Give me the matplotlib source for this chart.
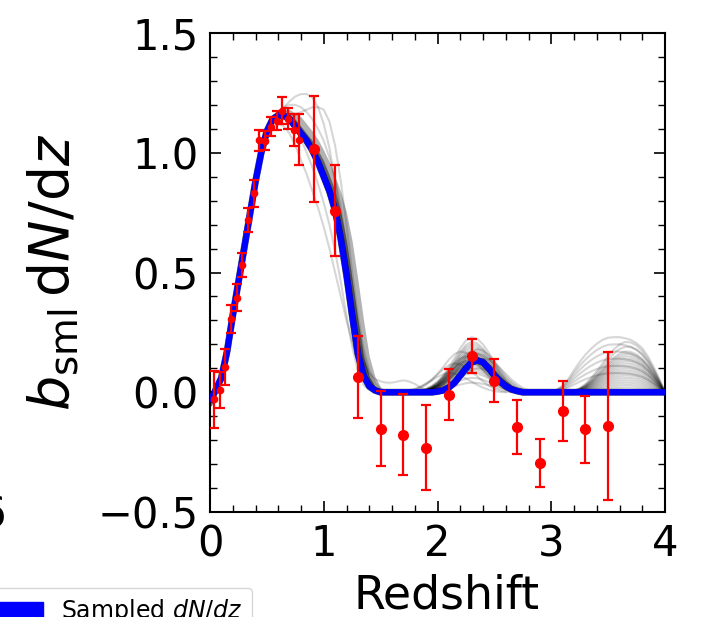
import numpy as np
import matplotlib
matplotlib.use("Agg")
import matplotlib.pyplot as plt
from matplotlib.patches import Patch
from matplotlib.ticker import MultipleLocator

plt.rcParams['font.family'] = ['DejaVu Sans']
plt.rcParams['mathtext.fontset'] = 'dejavusans'

# ---------------- data ----------------
z_grid = np.round(np.arange(0, 4.0001, 0.05), 2)

# best-fit (blue) curve sampled on z_grid
blue_curve = [-0.04, 0.01, 0.06, 0.17, 0.32, 0.46, 0.60, 0.74, 0.88, 1.00,
              1.09, 1.14, 1.155, 1.155, 1.14, 1.11, 1.08, 1.05, 1.01, 0.96,
              0.90, 0.84, 0.76, 0.64, 0.49, 0.32, 0.16, 0.07, 0.025, 0.008,
              0.0, 0.0, 0.0, 0.0, 0.0, 0.0, 0.0, 0.0, 0.0, 0.0,
              0.003, 0.008, 0.02, 0.04, 0.07, 0.10, 0.125, 0.133, 0.125, 0.10,
              0.07, 0.045, 0.025, 0.012, 0.005,
              0.0, 0.0, 0.0, 0.0, 0.0, 0.0, 0.0, 0.0, 0.0, 0.0, 0.0, 0.0, 0.0,
              0.0, 0.0, 0.0, 0.0, 0.0, 0.0, 0.0, 0.0, 0.0, 0.0, 0.0, 0.0, 0.0]

# dense band of samples around the main peak (z = 0.50 ... 1.60)
band_hi = [1.10, 1.16, 1.18, 1.185, 1.18, 1.165, 1.15, 1.12, 1.09, 1.055,
           1.01, 0.96, 0.90, 0.835, 0.75, 0.63, 0.47, 0.30, 0.15, 0.065,
           0.022, 0.007, 0.0]
band_mid = [1.09, 1.15, 1.17, 1.17, 1.16, 1.14, 1.11, 1.08, 1.05, 1.01,
            0.965, 0.905, 0.84, 0.755, 0.63, 0.47, 0.30, 0.15, 0.065, 0.024,
            0.008, 0.0, 0.0]
band_lo = [1.08, 1.13, 1.145, 1.14, 1.12, 1.09, 1.06, 1.025, 0.985, 0.93,
           0.865, 0.80, 0.70, 0.58, 0.42, 0.255, 0.115, 0.045, 0.015, 0.003,
           0.0, 0.0, 0.0]

# individual faint sample curves around the main peak (start at z = 0.50)
outlier_1 = [1.09, 1.13, 1.16, 1.19, 1.215, 1.235, 1.245, 1.245, 1.23, 1.19,
             1.12, 1.02, 0.88, 0.72, 0.55, 0.38, 0.24, 0.13, 0.06, 0.02, 0.0, 0.0]
outlier_2 = [1.09, 1.13, 1.15, 1.155, 1.155, 1.16, 1.17, 1.18, 1.19, 1.19,
             1.18, 1.13, 1.03, 0.88, 0.70, 0.50, 0.32, 0.18, 0.09, 0.04, 0.01, 0.0]
outlier_3 = [1.08, 1.11, 1.12, 1.11, 1.08, 1.03, 0.97, 0.91, 0.84, 0.77,
             0.69, 0.60, 0.50, 0.40, 0.30, 0.21, 0.13, 0.07, 0.03, 0.01, 0.0, 0.0]
outlier_4 = [1.09, 1.14, 1.16, 1.165, 1.15, 1.12, 1.09, 1.05, 1.01, 0.96,
             0.90, 0.83, 0.74, 0.62, 0.48, 0.34, 0.22, 0.13, 0.08, 0.055,
             0.045, 0.04, 0.04, 0.045, 0.05, 0.045, 0.035, 0.02, 0.01, 0.003, 0.0]
outlier_5 = [1.10, 1.15, 1.17, 1.17, 1.15, 1.11, 1.06, 1.00, 0.94, 0.87,
             0.79, 0.70, 0.59, 0.46, 0.32, 0.19, 0.09, 0.03, 0.01, 0.0, 0.0, 0.0]
outlier_6 = [1.09, 1.14, 1.17, 1.19, 1.20, 1.20, 1.19, 1.17, 1.14, 1.10,
             1.05, 0.98, 0.89, 0.77, 0.62, 0.45, 0.29, 0.16, 0.07, 0.02, 0.0, 0.0]

# second bump (z ~ 2.3): normalised profile over 21 grid steps, its start and peak heights
bump2_profile = [0.0, 0.02, 0.05, 0.10, 0.18, 0.30, 0.45, 0.62, 0.80, 0.94, 1.0,
                 0.97, 0.87, 0.72, 0.55, 0.38, 0.24, 0.13, 0.06, 0.02, 0.0]
bump2_start = [1.80, 1.80, 1.80, 1.80, 1.80, 1.80, 1.80, 1.80, 1.80, 1.80, 1.80,
               1.80, 1.80, 1.80, 1.80, 1.80, 1.80, 1.80, 1.80, 1.80, 1.80, 1.80,
               1.60, 1.65, 1.70, 1.85, 1.90, 1.75, 1.85, 1.80, 1.75, 1.85]
bump2_peak = [0.23, 0.21, 0.20, 0.19, 0.18, 0.17, 0.17, 0.16, 0.16, 0.15, 0.15,
              0.14, 0.14, 0.13, 0.13, 0.12, 0.11, 0.10, 0.09, 0.08, 0.06, 0.04,
              0.08, 0.12, 0.17, 0.16, 0.14, 0.15, 0.18, 0.12, 0.13, 0.10]

# third bump (z ~ 3.6), z = 3.00 ... 4.00
bump3_broad = [0.0, 0.05, 0.12, 0.24, 0.40, 0.55, 0.68, 0.79, 0.88, 0.95, 0.99,
               1.0, 1.0, 0.98, 0.95, 0.89, 0.80, 0.65, 0.46, 0.24, 0.0]
bump3_narrow = [0.0, 0.0, 0.0, 0.01, 0.03, 0.08, 0.16, 0.28, 0.42, 0.57, 0.72,
                0.85, 0.95, 1.0, 0.99, 0.93, 0.82, 0.66, 0.46, 0.24, 0.0]
bump3_broad_peak = [0.23, 0.20, 0.17, 0.14, 0.11, 0.08]
bump3_narrow_peak = [0.21, 0.19, 0.17, 0.16, 0.15, 0.14, 0.13, 0.12, 0.11, 0.10,
                     0.09, 0.08, 0.07, 0.06, 0.05, 0.04, 0.03, 0.02]

# measured points
z_fine = [0.035, 0.085, 0.135, 0.185, 0.235, 0.285, 0.335, 0.385, 0.435, 0.485,
          0.535, 0.585, 0.635, 0.685, 0.735, 0.785]
y_fine = [-0.03, 0.008, 0.106, 0.306, 0.395, 0.532, 0.721, 0.83, 1.052, 1.05,
          1.108, 1.133, 1.175, 1.143, 1.094, 1.055]
e_fine = [0.12, 0.075, 0.075, 0.057, 0.055, 0.05, 0.05, 0.055, 0.045, 0.04,
          0.04, 0.04, 0.056, 0.045, 0.066, 0.108]
z_coarse = [0.91, 1.10, 1.30, 1.50, 1.70, 1.90, 2.10, 2.30, 2.50, 2.70, 2.90,
            3.10, 3.30, 3.50]
y_coarse = [1.015, 0.757, 0.063, -0.152, -0.177, -0.232, -0.011, 0.152, 0.049,
            -0.145, -0.295, -0.078, -0.155, -0.14]
e_coarse = [0.22, 0.19, 0.17, 0.157, 0.17, 0.177, 0.106, 0.07, 0.088, 0.111,
            0.1, 0.127, 0.14, 0.31]

# ---------------- figure ----------------
fig = plt.figure(figsize=(7.03, 6.17), dpi=100)
ax = fig.add_axes([210/703, 1-512/617, 455/703, 479/617])

z = z_grid
gkw = dict(color='black', alpha=0.16, lw=1.5, zorder=2)

# dense band
bz = z[10:10+len(band_hi)]
ax.fill_between(bz, band_lo, band_hi, color='black', alpha=0.3, lw=0, zorder=2)
ax.fill_between(bz, band_lo, band_mid, color='black', alpha=0.45, lw=0, zorder=2)
for arr in (outlier_1, outlier_2, outlier_3, outlier_4, outlier_5, outlier_6):
    ax.plot(z[10:10+len(arr)], arr, **gkw)

# baseline of samples
ax.plot(z, blue_curve, color='black', alpha=0.6, lw=5, zorder=2)

# bump 2
for s, a in zip(bump2_start, bump2_peak):
    i0 = int(round(s / 0.05))
    ax.plot(z[i0:i0+len(bump2_profile)], np.array(bump2_profile) * a, **gkw)
# bump 3
for a in bump3_broad_peak:
    ax.plot(z[60:81], np.array(bump3_broad) * a, **gkw)
for a in bump3_narrow_peak:
    ax.plot(z[60:81], np.array(bump3_narrow) * a, **gkw)

ax.plot(z, blue_curve, color='blue', lw=4.5, zorder=3, solid_capstyle='butt')

ekw = dict(fmt='o', color='red', ecolor='red', elinewidth=1.6, capsize=3.5,
           capthick=1.6, zorder=4)
ax.errorbar(z_fine, y_fine, yerr=e_fine, ms=4.5, **ekw)
ax.errorbar(z_coarse, y_coarse, yerr=e_coarse, ms=7, **ekw)

ax.set_xlim(0, 4)
ax.set_ylim(-0.5, 1.5)
ax.xaxis.set_major_locator(MultipleLocator(1))
ax.xaxis.set_minor_locator(MultipleLocator(0.2))
ax.yaxis.set_major_locator(MultipleLocator(0.5))
ax.yaxis.set_minor_locator(MultipleLocator(0.1))
ax.tick_params(which='both', direction='in', top=True, right=True)
ax.tick_params(which='major', length=8, width=1.2, labelsize=30, pad=8)
ax.tick_params(which='minor', length=5, width=1.0)
ax.set_xticks([0, 1, 2, 3, 4])
ax.set_xticklabels(['0', '1', '2', '3', '4'])
for sp in ax.spines.values():
    sp.set_linewidth(1.5)

ax.set_xlabel('Redshift', fontsize=33)
ax.xaxis.set_label_coords(0.52, -0.128)
ax.xaxis.label.set_va('top')
ax.set_ylabel(r'$b_{\rm sml}\,{\rm d}N/{\rm d}z$', fontsize=40)
ax.yaxis.set_label_coords(-0.285, 0.5)

fig.text(0.0085, 1-516/617, '6', fontsize=30, ha='right', va='center')

leg = fig.legend(handles=[Patch(facecolor='blue', edgecolor='blue', label=r'Sampled $dN/dz$')],
                 loc='upper left', bbox_to_anchor=(-0.02, 1-588/617), fontsize=17,
                 frameon=True, borderaxespad=0)
leg.get_frame().set_edgecolor('0.8')

fig.savefig('out.png', dpi=100)
